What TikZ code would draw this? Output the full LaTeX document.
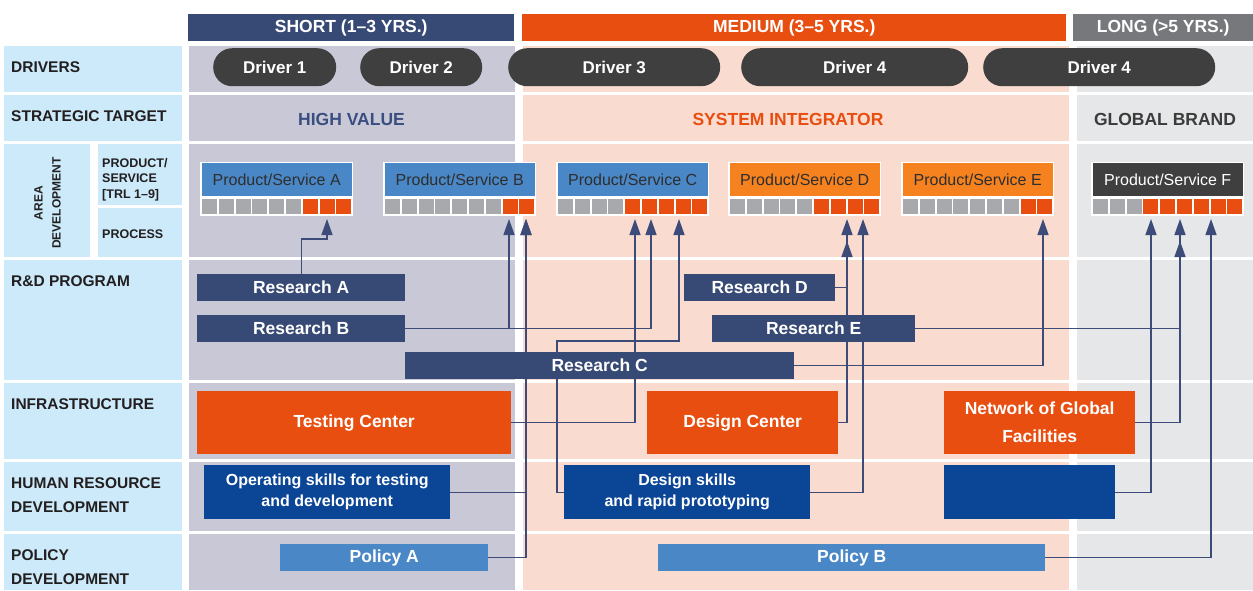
\documentclass[tikz,border=0pt]{standalone}
\usepackage{fontspec}
\setmainfont{Liberation Sans}
\usetikzlibrary{arrows.meta,calc}
\definecolor{navyH}{HTML}{374A75}
\definecolor{orangeM}{HTML}{E84E10}
\definecolor{grayL}{HTML}{77787B}
\definecolor{leftC}{HTML}{CCEAF9}
\definecolor{shortBg}{HTML}{C9C8D7}
\definecolor{medBg}{HTML}{F9DCCF}
\definecolor{longBg}{HTML}{E6E7E8}
\definecolor{pillC}{HTML}{3F3F3F}
\definecolor{prodBlue}{HTML}{4A87C6}
\definecolor{prodOrange}{HTML}{F5821F}
\definecolor{deepBlue}{HTML}{0B4596}
\definecolor{cellGray}{HTML}{A7A9AC}
\definecolor{lineC}{HTML}{3D4B78}
\definecolor{darkT}{HTML}{231F20}
\definecolor{hvC}{HTML}{3B4E80}
\definecolor{gbC}{HTML}{3C3C3C}
\definecolor{prodT}{HTML}{2E2E2E}
\pgfdeclarelayer{bg}
\pgfdeclarelayer{lines}
\pgfsetlayers{bg,lines,main}
\newcommand\fs[1]{\fontsize{#1}{#1}\selectfont}
\newcommand\prodbox[6]{%
  \node[prodouter] (#1) at (#2,162) {};
  \node[prodtitle, fill=#3, text=#4] (#1t) at (#2+1.5,163) {#5};
  \foreach \i in {0,...,8}{%
    \ifnum\i<#6\relax \def\cc{cellGray}\else\def\cc{orangeM}\fi
    \fill[fill=\cc] ({#2+2+16.8*\i},199) rectangle ++(15,15);
  }%
}
\begin{document}
\begin{tikzpicture}[x=1pt,y=-1pt,
  prodouter/.style={fill=white, minimum width=153, minimum height=54, anchor=north west, inner sep=0pt},
  prodtitle/.style={minimum width=150, minimum height=33, anchor=north west, inner sep=0pt, font=\fs{16}},
  box/.style={anchor=north west, inner sep=0pt, text=white, font=\bfseries\fs{17.5}, align=center},
  pill/.style={fill=pillC, rounded corners=19pt, minimum height=38, anchor=north west, inner sep=0pt, text=white, font=\bfseries\fs{17}},
  hdr/.style={anchor=north west, inner sep=0pt, minimum height=27, text=white, font=\bfseries\fs{17.5}},
  lbl/.style={anchor=base west, inner sep=0pt, text=darkT, font=\bfseries\fs{15.5}},
  slbl/.style={anchor=base west, inner sep=0pt, text=darkT, font=\bfseries\fs{12.5}},
  tgt/.style={font=\bfseries\fs{17.5}},
  conn/.style={draw=lineC, line width=1.4pt},
  arr/.style={conn, -{Triangle[width=11pt,length=16pt]}}]
\useasboundingbox (0,0) rectangle (1253,590);
\begin{pgfonlayer}{bg}
\fill[white] (0,0) rectangle (1253,590);
\foreach \ya/\yb in {46/92,95/141,144/257,260/380,383/459,462/531,534/590}{
  \fill[shortBg] (189,\ya) rectangle (515,\yb);
  \fill[medBg] (523,\ya) rectangle (1069,\yb);
  \fill[longBg] (1077,\ya) rectangle (1253,\yb);
}
\foreach \ya/\yb in {46/92,95/141,260/380,383/459,462/531,534/590}{
  \fill[leftC] (4,\ya) rectangle (182,\yb);
}
\fill[leftC] (4,144) rectangle (90,257);
\fill[leftC] (98,144) rectangle (182,205);
\fill[leftC] (98,208) rectangle (182,257);
\end{pgfonlayer}

% headers
\node[hdr, fill=navyH, minimum width=326] (hS) at (188,14) {SHORT (1–3 YRS.)};
\node[hdr, fill=orangeM, minimum width=544] (hM) at (522,14) {MEDIUM (3–5 YRS.)};
\node[hdr, fill=grayL, minimum width=180] (hL) at (1073,14) {LONG (>5 YRS.)};

% left labels
\node[lbl] (lDr) at (11,72) {DRIVERS};
\node[lbl] (lSt) at (11,121) {STRATEGIC TARGET};
\node[rotate=90, align=center, inner sep=0pt, text=darkT, font=\bfseries\fontsize{12}{18}\selectfont] (lAr) at (47.5,203) {AREA\\DEVELOPMENT};
\node[slbl] (lP1) at (102,167) {PRODUCT/};
\node[slbl] (lP2) at (102,182.5) {SERVICE};
\node[slbl] (lP3) at (102,198) {[TRL 1–9]};
\node[slbl] (lPr) at (102,238) {PROCESS};
\node[lbl] (lRD) at (11,286) {R\&D PROGRAM};
\node[lbl] (lIn) at (11,409) {INFRASTRUCTURE};
\node[lbl] (lH1) at (11,488) {HUMAN RESOURCE};
\node[lbl] (lH2) at (11,512) {DEVELOPMENT};
\node[lbl] (lPo1) at (11,560) {POLICY};
\node[lbl] (lPo2) at (11,584) {DEVELOPMENT};

% drivers
\node[pill, minimum width=123] (d1) at (213,48) {Driver 1};
\node[pill, minimum width=122] (d2) at (360,48) {Driver 2};
\node[pill, minimum width=212] (d3) at (508,48) {Driver 3};
\node[pill, minimum width=227] (d4) at (741,48) {Driver 4};
\node[pill, minimum width=232] (d5) at (983,48) {Driver 4};

% strategic targets
\node[tgt, text=hvC] (sHV) at (351.5,119) {HIGH VALUE};
\node[tgt, text=orangeM] (sSI) at (788,119) {SYSTEM INTEGRATOR};
\node[tgt, text=gbC] (sGB) at (1165,119) {GLOBAL BRAND};

% products
\prodbox{pA}{200}{prodBlue}{prodT}{Product/Service A}{6}
\prodbox{pB}{383}{prodBlue}{prodT}{Product/Service B}{7}
\prodbox{pC}{556}{prodBlue}{prodT}{Product/Service C}{4}
\prodbox{pD}{728}{prodOrange}{prodT}{Product/Service D}{5}
\prodbox{pE}{901}{prodOrange}{prodT}{Product/Service E}{7}
\prodbox{pF}{1091}{pillC}{white}{Product/Service F}{3}

% R&D
\node[box, fill=navyH, minimum width=208, minimum height=27] (rA) at (197,274) {Research A};
\node[box, fill=navyH, minimum width=208, minimum height=27] (rB) at (197,315) {Research B};
\node[box, fill=navyH, minimum width=389, minimum height=27] (rC) at (405,352) {Research C};
\node[box, fill=navyH, minimum width=151, minimum height=27] (rD) at (684,274) {Research D};
\node[box, fill=navyH, minimum width=203, minimum height=27] (rE) at (712,315) {Research E};

% infrastructure
\node[box, fill=orangeM, minimum width=314, minimum height=63] (tc) at (197,391) {Testing Center};
\node[box, fill=orangeM, minimum width=191, minimum height=63] (dc) at (647,391) {Design Center};
\node[box, fill=orangeM, minimum width=191, minimum height=63, font=\bfseries\fontsize{17.5}{28}\selectfont] (nw) at (944,391) {Network of Global\\Facilities};

% human resources
\node[box, fill=deepBlue, minimum width=246, minimum height=54, font=\bfseries\fontsize{16}{21}\selectfont] (os) at (204,465) {Operating skills for testing\\and development};
\node[box, fill=deepBlue, minimum width=246, minimum height=54, font=\bfseries\fontsize{16}{21}\selectfont] (ds) at (564,465) {Design skills\\and rapid prototyping};
\node[box, fill=deepBlue, minimum width=171, minimum height=54] (hb) at (944,465) {};

% policy
\node[box, fill=prodBlue, minimum width=208, minimum height=27] (pa) at (280,544) {Policy A};
\node[box, fill=prodBlue, minimum width=387, minimum height=27] (pb) at (658,544) {Policy B};

% arrow tips
\coordinate (tA) at (327,219);
\coordinate (tB1) at (509,219);
\coordinate (tB2) at (526,219);
\coordinate (tC1) at (635,219);
\coordinate (tC2) at (651,219);
\coordinate (tC3) at (679,219);
\coordinate (tD1) at (847,219);
\coordinate (tD2) at (847,241);
\coordinate (tD3) at (863,219);
\coordinate (tE) at (1043,219);
\coordinate (tF1) at (1151,219);
\coordinate (tF2) at (1180,219);
\coordinate (tF2b) at (1180,241);
\coordinate (tF3) at (1211,219);
\coordinate (bendC) at (557,341);

\begin{pgfonlayer}{lines}
\draw[arr] (rA.north) |- ($(tA)+(0,20)$) -- (tA);
\draw[arr] (rB.east) -| (tB1);
\draw[arr] (rB.east) -| (tC2);
\draw[arr] (rC.east) -| (tE);
\draw[arr] (rD.east) -| (tD2);
\draw[arr] (rE.east) -| (tF2b);
\draw[arr] (tc.east) -| (tC1);
\draw[arr] (dc.east) -| (tD1);
\draw[arr] (nw.east) -| (tF2);
\draw[arr] (os.east) -| (tB2);
\draw[arr] (pa.east) -| (tB2);
\draw[arr] (ds.west) -| (bendC) -| (tC3);
\draw[arr] (ds.east) -| (tD3);
\draw[arr] (hb.east) -| (tF1);
\draw[arr] (pb.east) -| (tF3);
\end{pgfonlayer}
\end{tikzpicture}
\end{document}
